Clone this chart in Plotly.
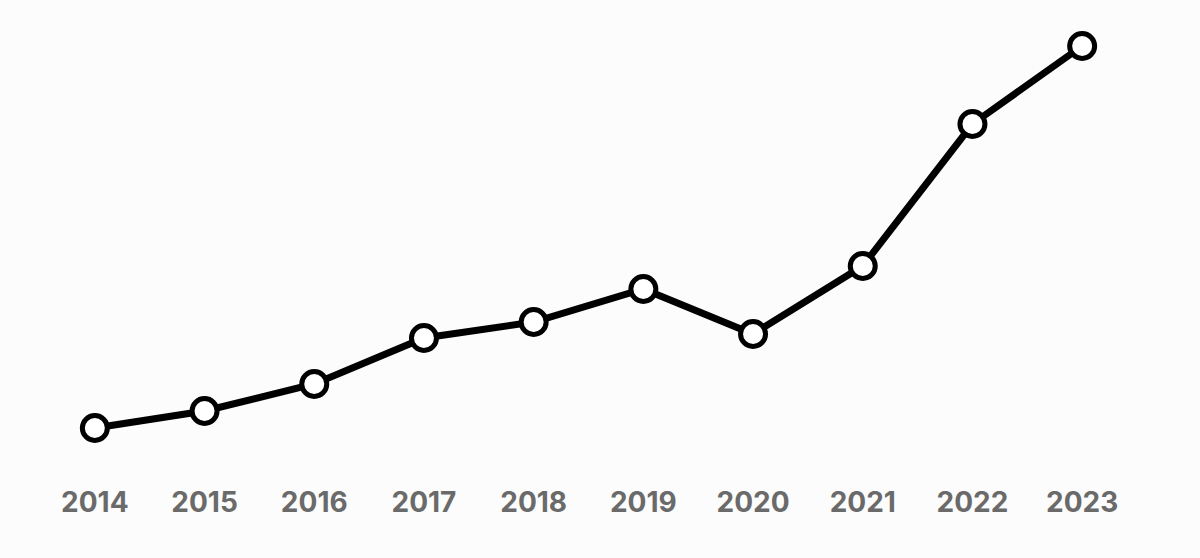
import plotly.graph_objects as go

years = ["2014", "2015", "2016", "2017", "2018", "2019", "2020", "2021", "2022", "2023"]
values = [42, 59, 86, 132, 148, 181, 136, 204, 346, 424]

fig = go.Figure(go.Scatter(
    x=years, y=values, mode="lines+markers",
    line=dict(color="#000000", width=7),
    marker=dict(size=25, color="#ffffff", line=dict(color="#000000", width=5)),
    cliponaxis=False,
))

fig.update_layout(
    width=1200, height=558,
    margin=dict(l=40, r=63, t=0, b=88),
    paper_bgcolor="#fcfcfc", plot_bgcolor="#fcfcfc",
    showlegend=False,
    xaxis=dict(type="category", range=[-0.5, 9.5], showgrid=False, zeroline=False,
               showline=False, ticks="", ticklabelstandoff=13,
               tickfont=dict(family="Inter", size=28, color="#6a6a6a", weight="bold")),
    yaxis=dict(range=[0, 470], visible=False),
)

fig.write_html("out.html", config={"displayModeBar": False},
               post_script="document.body.style.margin='0';document.body.style.overflow='hidden';document.body.style.background='#fcfcfc';")
